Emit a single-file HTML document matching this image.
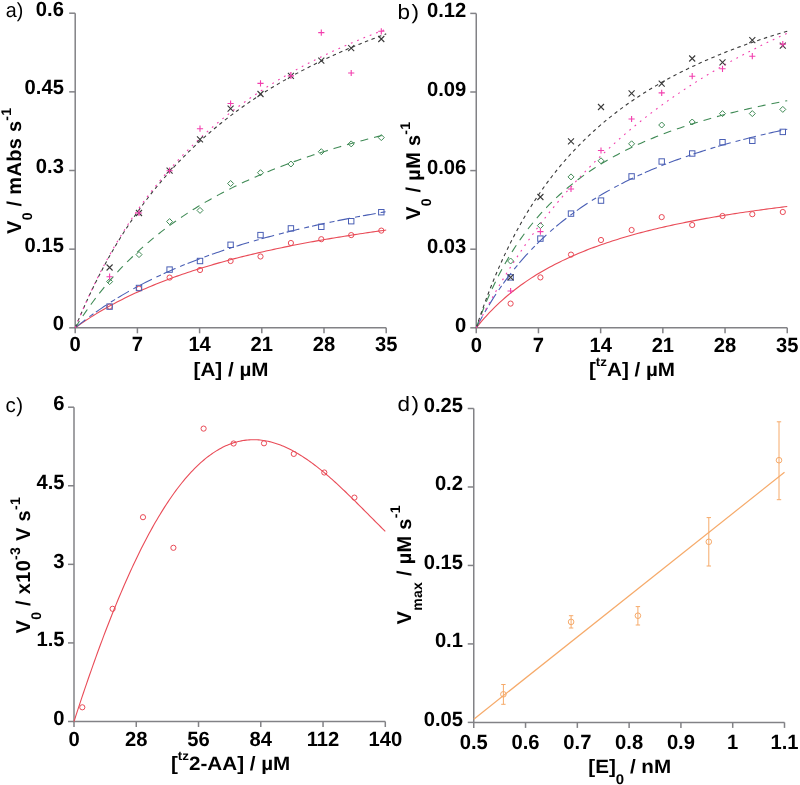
<!DOCTYPE html><html><head><meta charset="utf-8"><style>html,body{margin:0;padding:0;background:#fff}svg{display:block;font-family:"Liberation Sans",sans-serif;text-rendering:geometricPrecision;filter:blur(0.5px)}</style></head><body><svg width="800" height="785" viewBox="0 0 800 785" >
<rect width="800" height="785" fill="#fff"/>
<path d="M75.2,13.2 V327.8 H386.2" stroke="#828286" stroke-width="1.5" fill="none"/>
<path d="M75.20,327.8 v5.5" stroke="#828286" stroke-width="1.5"/>
<text transform="translate(75.20,351.40) scale(0.98,1)" text-anchor="middle" font-size="20.6" font-weight="bold" >0</text>
<path d="M137.40,327.8 v5.5" stroke="#828286" stroke-width="1.5"/>
<text transform="translate(137.40,351.40) scale(0.98,1)" text-anchor="middle" font-size="20.6" font-weight="bold" >7</text>
<path d="M199.60,327.8 v5.5" stroke="#828286" stroke-width="1.5"/>
<text transform="translate(199.60,351.40) scale(0.98,1)" text-anchor="middle" font-size="20.6" font-weight="bold" >14</text>
<path d="M261.80,327.8 v5.5" stroke="#828286" stroke-width="1.5"/>
<text transform="translate(261.80,351.40) scale(0.98,1)" text-anchor="middle" font-size="20.6" font-weight="bold" >21</text>
<path d="M324.00,327.8 v5.5" stroke="#828286" stroke-width="1.5"/>
<text transform="translate(324.00,351.40) scale(0.98,1)" text-anchor="middle" font-size="20.6" font-weight="bold" >28</text>
<path d="M386.20,327.8 v5.5" stroke="#828286" stroke-width="1.5"/>
<text transform="translate(386.20,351.40) scale(0.98,1)" text-anchor="middle" font-size="20.6" font-weight="bold" >35</text>
<path d="M75.2,327.80 h-6" stroke="#828286" stroke-width="1.5"/>
<text transform="translate(63.90,330.40) scale(0.98,1)" text-anchor="end" font-size="20.6" font-weight="bold" >0</text>
<path d="M75.2,249.15 h-6" stroke="#828286" stroke-width="1.5"/>
<text transform="translate(63.90,251.75) scale(0.98,1)" text-anchor="end" font-size="20.6" font-weight="bold" >0.15</text>
<path d="M75.2,170.50 h-6" stroke="#828286" stroke-width="1.5"/>
<text transform="translate(63.90,173.10) scale(0.98,1)" text-anchor="end" font-size="20.6" font-weight="bold" >0.3</text>
<path d="M75.2,91.85 h-6" stroke="#828286" stroke-width="1.5"/>
<text transform="translate(63.90,94.45) scale(0.98,1)" text-anchor="end" font-size="20.6" font-weight="bold" >0.45</text>
<path d="M75.2,13.20 h-6" stroke="#828286" stroke-width="1.5"/>
<text transform="translate(63.90,15.80) scale(0.98,1)" text-anchor="end" font-size="20.6" font-weight="bold" >0.6</text>
<path d="M75.20,327.80 L77.81,325.93 L80.43,324.10 L83.04,322.31 L85.65,320.56 L88.27,318.84 L90.88,317.16 L93.49,315.52 L96.11,313.90 L98.72,312.32 L101.33,310.77 L103.95,309.25 L106.56,307.76 L109.17,306.30 L111.79,304.86 L114.40,303.45 L117.02,302.07 L119.63,300.72 L122.24,299.39 L124.86,298.08 L127.47,296.79 L130.08,295.53 L132.70,294.29 L135.31,293.08 L137.92,291.88 L140.54,290.71 L143.15,289.55 L145.76,288.41 L148.38,287.30 L150.99,286.20 L153.60,285.12 L156.22,284.06 L158.83,283.01 L161.44,281.98 L164.06,280.97 L166.67,279.97 L169.28,278.99 L171.90,278.03 L174.51,277.08 L177.12,276.14 L179.74,275.22 L182.35,274.31 L184.96,273.42 L187.58,272.53 L190.19,271.67 L192.81,270.81 L195.42,269.97 L198.03,269.14 L200.65,268.32 L203.26,267.51 L205.87,266.72 L208.49,265.93 L211.10,265.16 L213.71,264.40 L216.33,263.64 L218.94,262.90 L221.55,262.17 L224.17,261.45 L226.78,260.73 L229.39,260.03 L232.01,259.34 L234.62,258.65 L237.23,257.98 L239.85,257.31 L242.46,256.65 L245.07,256.00 L247.69,255.36 L250.30,254.73 L252.91,254.10 L255.53,253.48 L258.14,252.87 L260.75,252.27 L263.37,251.67 L265.98,251.08 L268.59,250.50 L271.21,249.93 L273.82,249.36 L276.44,248.80 L279.05,248.25 L281.66,247.70 L284.28,247.16 L286.89,246.62 L289.50,246.10 L292.12,245.57 L294.73,245.06 L297.34,244.55 L299.96,244.04 L302.57,243.54 L305.18,243.05 L307.80,242.56 L310.41,242.08 L313.02,241.60 L315.64,241.13 L318.25,240.66 L320.86,240.20 L323.48,239.74 L326.09,239.29 L328.70,238.84 L331.32,238.40 L333.93,237.96 L336.54,237.53 L339.16,237.10 L341.77,236.67 L344.38,236.25 L347.00,235.84 L349.61,235.42 L352.23,235.02 L354.84,234.61 L357.45,234.21 L360.07,233.82 L362.68,233.43 L365.29,233.04 L367.91,232.65 L370.52,232.27 L373.13,231.90 L375.75,231.52 L378.36,231.16 L380.97,230.79 L383.59,230.43 L386.20,230.07" fill="none" stroke="#e94b57" stroke-width="1.1" />
<path d="M75.20,327.80 L77.81,325.68 L80.43,323.60 L83.04,321.56 L85.65,319.56 L88.27,317.60 L90.88,315.67 L93.49,313.78 L96.11,311.93 L98.72,310.11 L101.33,308.33 L103.95,306.57 L106.56,304.85 L109.17,303.16 L111.79,301.50 L114.40,299.87 L117.02,298.26 L119.63,296.69 L122.24,295.14 L124.86,293.61 L127.47,292.11 L130.08,290.64 L132.70,289.19 L135.31,287.77 L137.92,286.36 L140.54,284.98 L143.15,283.63 L145.76,282.29 L148.38,280.97 L150.99,279.68 L153.60,278.40 L156.22,277.15 L158.83,275.91 L161.44,274.70 L164.06,273.50 L166.67,272.31 L169.28,271.15 L171.90,270.00 L174.51,268.87 L177.12,267.76 L179.74,266.66 L182.35,265.58 L184.96,264.51 L187.58,263.46 L190.19,262.42 L192.81,261.40 L195.42,260.39 L198.03,259.39 L200.65,258.41 L203.26,257.44 L205.87,256.49 L208.49,255.55 L211.10,254.62 L213.71,253.70 L216.33,252.79 L218.94,251.90 L221.55,251.01 L224.17,250.14 L226.78,249.28 L229.39,248.43 L232.01,247.59 L234.62,246.76 L237.23,245.94 L239.85,245.14 L242.46,244.34 L245.07,243.55 L247.69,242.77 L250.30,242.00 L252.91,241.24 L255.53,240.49 L258.14,239.75 L260.75,239.01 L263.37,238.29 L265.98,237.57 L268.59,236.86 L271.21,236.16 L273.82,235.47 L276.44,234.78 L279.05,234.10 L281.66,233.43 L284.28,232.77 L286.89,232.12 L289.50,231.47 L292.12,230.83 L294.73,230.20 L297.34,229.57 L299.96,228.95 L302.57,228.34 L305.18,227.73 L307.80,227.13 L310.41,226.54 L313.02,225.95 L315.64,225.37 L318.25,224.79 L320.86,224.22 L323.48,223.66 L326.09,223.10 L328.70,222.55 L331.32,222.00 L333.93,221.46 L336.54,220.93 L339.16,220.39 L341.77,219.87 L344.38,219.35 L347.00,218.84 L349.61,218.33 L352.23,217.82 L354.84,217.32 L357.45,216.83 L360.07,216.34 L362.68,215.85 L365.29,215.37 L367.91,214.89 L370.52,214.42 L373.13,213.95 L375.75,213.49 L378.36,213.03 L380.97,212.58 L383.59,212.13 L386.20,211.68" fill="none" stroke="#4a5fb5" stroke-width="1.1" stroke-dasharray="13 5 5 3"/>
<path d="M75.20,327.80 L77.81,323.67 L80.43,319.64 L83.04,315.72 L85.65,311.90 L88.27,308.17 L90.88,304.53 L93.49,300.98 L96.11,297.52 L98.72,294.14 L101.33,290.83 L103.95,287.61 L106.56,284.45 L109.17,281.37 L111.79,278.36 L114.40,275.42 L117.02,272.53 L119.63,269.72 L122.24,266.96 L124.86,264.26 L127.47,261.61 L130.08,259.02 L132.70,256.49 L135.31,254.00 L137.92,251.57 L140.54,249.18 L143.15,246.84 L145.76,244.55 L148.38,242.30 L150.99,240.10 L153.60,237.93 L156.22,235.81 L158.83,233.73 L161.44,231.68 L164.06,229.67 L166.67,227.70 L169.28,225.77 L171.90,223.86 L174.51,222.00 L177.12,220.16 L179.74,218.36 L182.35,216.58 L184.96,214.84 L187.58,213.13 L190.19,211.44 L192.81,209.79 L195.42,208.16 L198.03,206.55 L200.65,204.98 L203.26,203.43 L205.87,201.90 L208.49,200.40 L211.10,198.92 L213.71,197.46 L216.33,196.03 L218.94,194.62 L221.55,193.23 L224.17,191.86 L226.78,190.51 L229.39,189.18 L232.01,187.87 L234.62,186.58 L237.23,185.31 L239.85,184.06 L242.46,182.83 L245.07,181.61 L247.69,180.41 L250.30,179.23 L252.91,178.06 L255.53,176.91 L258.14,175.77 L260.75,174.66 L263.37,173.55 L265.98,172.46 L268.59,171.39 L271.21,170.33 L273.82,169.28 L276.44,168.25 L279.05,167.23 L281.66,166.23 L284.28,165.23 L286.89,164.25 L289.50,163.29 L292.12,162.33 L294.73,161.39 L297.34,160.46 L299.96,159.53 L302.57,158.63 L305.18,157.73 L307.80,156.84 L310.41,155.97 L313.02,155.10 L315.64,154.25 L318.25,153.40 L320.86,152.57 L323.48,151.74 L326.09,150.92 L328.70,150.12 L331.32,149.32 L333.93,148.53 L336.54,147.75 L339.16,146.98 L341.77,146.22 L344.38,145.47 L347.00,144.73 L349.61,143.99 L352.23,143.26 L354.84,142.54 L357.45,141.83 L360.07,141.13 L362.68,140.43 L365.29,139.74 L367.91,139.06 L370.52,138.38 L373.13,137.72 L375.75,137.06 L378.36,136.40 L380.97,135.75 L383.59,135.11 L386.20,134.48" fill="none" stroke="#3f8a55" stroke-width="1.1" stroke-dasharray="8 6"/>
<path d="M75.20,327.80 L77.81,321.47 L80.43,315.31 L83.04,309.31 L85.65,303.46 L88.27,297.76 L90.88,292.20 L93.49,286.77 L96.11,281.48 L98.72,276.32 L101.33,271.27 L103.95,266.34 L106.56,261.53 L109.17,256.83 L111.79,252.23 L114.40,247.74 L117.02,243.34 L119.63,239.05 L122.24,234.84 L124.86,230.72 L127.47,226.70 L130.08,222.75 L132.70,218.89 L135.31,215.11 L137.92,211.40 L140.54,207.77 L143.15,204.21 L145.76,200.72 L148.38,197.29 L150.99,193.94 L153.60,190.65 L156.22,187.42 L158.83,184.25 L161.44,181.14 L164.06,178.09 L166.67,175.09 L169.28,172.15 L171.90,169.26 L174.51,166.42 L177.12,163.63 L179.74,160.89 L182.35,158.20 L184.96,155.55 L187.58,152.95 L190.19,150.39 L192.81,147.88 L195.42,145.40 L198.03,142.97 L200.65,140.58 L203.26,138.22 L205.87,135.91 L208.49,133.63 L211.10,131.39 L213.71,129.18 L216.33,127.00 L218.94,124.86 L221.55,122.76 L224.17,120.68 L226.78,118.64 L229.39,116.62 L232.01,114.64 L234.62,112.69 L237.23,110.76 L239.85,108.86 L242.46,106.99 L245.07,105.15 L247.69,103.33 L250.30,101.54 L252.91,99.78 L255.53,98.03 L258.14,96.32 L260.75,94.62 L263.37,92.95 L265.98,91.30 L268.59,89.68 L271.21,88.07 L273.82,86.49 L276.44,84.93 L279.05,83.39 L281.66,81.86 L284.28,80.36 L286.89,78.88 L289.50,77.42 L292.12,75.97 L294.73,74.54 L297.34,73.13 L299.96,71.74 L302.57,70.37 L305.18,69.01 L307.80,67.67 L310.41,66.35 L313.02,65.04 L315.64,63.74 L318.25,62.47 L320.86,61.21 L323.48,59.96 L326.09,58.73 L328.70,57.51 L331.32,56.30 L333.93,55.11 L336.54,53.94 L339.16,52.77 L341.77,51.62 L344.38,50.49 L347.00,49.36 L349.61,48.25 L352.23,47.15 L354.84,46.06 L357.45,44.99 L360.07,43.92 L362.68,42.87 L365.29,41.83 L367.91,40.80 L370.52,39.78 L373.13,38.77 L375.75,37.78 L378.36,36.79 L380.97,35.81 L383.59,34.85 L386.20,33.89" fill="none" stroke="#3a3a3a" stroke-width="1.1" stroke-dasharray="3.5 3.5"/>
<path d="M75.20,327.80 L77.81,321.38 L80.43,315.14 L83.04,309.05 L85.65,303.12 L88.27,297.33 L90.88,291.69 L93.49,286.19 L96.11,280.82 L98.72,275.58 L101.33,270.46 L103.95,265.46 L106.56,260.57 L109.17,255.80 L111.79,251.14 L114.40,246.57 L117.02,242.11 L119.63,237.75 L122.24,233.48 L124.86,229.30 L127.47,225.21 L130.08,221.21 L132.70,217.28 L135.31,213.44 L137.92,209.68 L140.54,205.99 L143.15,202.37 L145.76,198.83 L148.38,195.35 L150.99,191.94 L153.60,188.60 L156.22,185.32 L158.83,182.10 L161.44,178.94 L164.06,175.84 L166.67,172.79 L169.28,169.80 L171.90,166.87 L174.51,163.98 L177.12,161.15 L179.74,158.37 L182.35,155.63 L184.96,152.94 L187.58,150.30 L190.19,147.70 L192.81,145.14 L195.42,142.63 L198.03,140.16 L200.65,137.72 L203.26,135.33 L205.87,132.98 L208.49,130.66 L211.10,128.38 L213.71,126.13 L216.33,123.93 L218.94,121.75 L221.55,119.61 L224.17,117.50 L226.78,115.42 L229.39,113.37 L232.01,111.35 L234.62,109.37 L237.23,107.41 L239.85,105.48 L242.46,103.58 L245.07,101.70 L247.69,99.86 L250.30,98.03 L252.91,96.24 L255.53,94.47 L258.14,92.72 L260.75,91.00 L263.37,89.30 L265.98,87.62 L268.59,85.97 L271.21,84.33 L273.82,82.72 L276.44,81.13 L279.05,79.57 L281.66,78.02 L284.28,76.49 L286.89,74.98 L289.50,73.49 L292.12,72.02 L294.73,70.57 L297.34,69.14 L299.96,67.72 L302.57,66.32 L305.18,64.94 L307.80,63.58 L310.41,62.23 L313.02,60.90 L315.64,59.59 L318.25,58.29 L320.86,57.00 L323.48,55.73 L326.09,54.48 L328.70,53.24 L331.32,52.01 L333.93,50.80 L336.54,49.61 L339.16,48.42 L341.77,47.25 L344.38,46.09 L347.00,44.95 L349.61,43.82 L352.23,42.70 L354.84,41.59 L357.45,40.50 L360.07,39.42 L362.68,38.34 L365.29,37.28 L367.91,36.24 L370.52,35.20 L373.13,34.17 L375.75,33.16 L378.36,32.15 L380.97,31.16 L383.59,30.18 L386.20,29.20" fill="none" stroke="#f23fae" stroke-width="1.1" stroke-dasharray="1.8 5"/>
<circle cx="109.60" cy="306.60" r="2.6" fill="none" stroke="#e94b57" stroke-width="1"/>
<circle cx="139.00" cy="288.60" r="2.6" fill="none" stroke="#e94b57" stroke-width="1"/>
<circle cx="169.60" cy="277.60" r="2.6" fill="none" stroke="#e94b57" stroke-width="1"/>
<circle cx="200.00" cy="270.00" r="2.6" fill="none" stroke="#e94b57" stroke-width="1"/>
<circle cx="230.60" cy="261.00" r="2.6" fill="none" stroke="#e94b57" stroke-width="1"/>
<circle cx="260.50" cy="256.50" r="2.6" fill="none" stroke="#e94b57" stroke-width="1"/>
<circle cx="290.90" cy="243.00" r="2.6" fill="none" stroke="#e94b57" stroke-width="1"/>
<circle cx="321.30" cy="239.20" r="2.6" fill="none" stroke="#e94b57" stroke-width="1"/>
<circle cx="351.20" cy="235.10" r="2.6" fill="none" stroke="#e94b57" stroke-width="1"/>
<circle cx="381.30" cy="230.60" r="2.6" fill="none" stroke="#e94b57" stroke-width="1"/>
<rect x="106.90" y="303.90" width="5.4" height="5.4" fill="none" stroke="#4a5fb5" stroke-width="1"/>
<rect x="136.30" y="285.30" width="5.4" height="5.4" fill="none" stroke="#4a5fb5" stroke-width="1"/>
<rect x="166.90" y="266.90" width="5.4" height="5.4" fill="none" stroke="#4a5fb5" stroke-width="1"/>
<rect x="197.30" y="258.30" width="5.4" height="5.4" fill="none" stroke="#4a5fb5" stroke-width="1"/>
<rect x="227.90" y="242.10" width="5.4" height="5.4" fill="none" stroke="#4a5fb5" stroke-width="1"/>
<rect x="257.80" y="232.40" width="5.4" height="5.4" fill="none" stroke="#4a5fb5" stroke-width="1"/>
<rect x="288.20" y="225.70" width="5.4" height="5.4" fill="none" stroke="#4a5fb5" stroke-width="1"/>
<rect x="318.60" y="224.10" width="5.4" height="5.4" fill="none" stroke="#4a5fb5" stroke-width="1"/>
<rect x="348.50" y="218.50" width="5.4" height="5.4" fill="none" stroke="#4a5fb5" stroke-width="1"/>
<rect x="378.60" y="209.50" width="5.4" height="5.4" fill="none" stroke="#4a5fb5" stroke-width="1"/>
<path d="M109.60,278.60 L112.60,281.60 L109.60,284.60 L106.60,281.60Z" fill="none" stroke="#3f8a55" stroke-width="1"/>
<path d="M139.00,251.60 L142.00,254.60 L139.00,257.60 L136.00,254.60Z" fill="none" stroke="#3f8a55" stroke-width="1"/>
<path d="M169.60,218.60 L172.60,221.60 L169.60,224.60 L166.60,221.60Z" fill="none" stroke="#3f8a55" stroke-width="1"/>
<path d="M200.00,207.40 L203.00,210.40 L200.00,213.40 L197.00,210.40Z" fill="none" stroke="#3f8a55" stroke-width="1"/>
<path d="M230.60,180.50 L233.60,183.50 L230.60,186.50 L227.60,183.50Z" fill="none" stroke="#3f8a55" stroke-width="1"/>
<path d="M260.50,169.70 L263.50,172.70 L260.50,175.70 L257.50,172.70Z" fill="none" stroke="#3f8a55" stroke-width="1"/>
<path d="M290.90,161.00 L293.90,164.00 L290.90,167.00 L287.90,164.00Z" fill="none" stroke="#3f8a55" stroke-width="1"/>
<path d="M321.30,148.70 L324.30,151.70 L321.30,154.70 L318.30,151.70Z" fill="none" stroke="#3f8a55" stroke-width="1"/>
<path d="M351.20,140.90 L354.20,143.90 L351.20,146.90 L348.20,143.90Z" fill="none" stroke="#3f8a55" stroke-width="1"/>
<path d="M381.30,134.60 L384.30,137.60 L381.30,140.60 L378.30,137.60Z" fill="none" stroke="#3f8a55" stroke-width="1"/>
<path d="M106.60,264.50 L112.60,270.50 M106.60,270.50 L112.60,264.50" stroke="#3a3a3a" stroke-width="1.1"/>
<path d="M136.00,210.00 L142.00,216.00 M136.00,216.00 L142.00,210.00" stroke="#3a3a3a" stroke-width="1.1"/>
<path d="M166.60,167.70 L172.60,173.70 M166.60,173.70 L172.60,167.70" stroke="#3a3a3a" stroke-width="1.1"/>
<path d="M197.00,136.30 L203.00,142.30 M197.00,142.30 L203.00,136.30" stroke="#3a3a3a" stroke-width="1.1"/>
<path d="M227.60,105.70 L233.60,111.70 M227.60,111.70 L233.60,105.70" stroke="#3a3a3a" stroke-width="1.1"/>
<path d="M257.50,91.00 L263.50,97.00 M257.50,97.00 L263.50,91.00" stroke="#3a3a3a" stroke-width="1.1"/>
<path d="M287.90,72.90 L293.90,78.90 M287.90,78.90 L293.90,72.90" stroke="#3a3a3a" stroke-width="1.1"/>
<path d="M318.30,57.70 L324.30,63.70 M318.30,63.70 L324.30,57.70" stroke="#3a3a3a" stroke-width="1.1"/>
<path d="M348.20,45.20 L354.20,51.20 M348.20,51.20 L354.20,45.20" stroke="#3a3a3a" stroke-width="1.1"/>
<path d="M378.30,36.00 L384.30,42.00 M378.30,42.00 L384.30,36.00" stroke="#3a3a3a" stroke-width="1.1"/>
<path d="M106.50,276.70 H112.70 M109.60,273.60 V279.80" stroke="#f23fae" stroke-width="1.1"/>
<path d="M135.90,213.00 H142.10 M139.00,209.90 V216.10" stroke="#f23fae" stroke-width="1.1"/>
<path d="M166.50,170.70 H172.70 M169.60,167.60 V173.80" stroke="#f23fae" stroke-width="1.1"/>
<path d="M196.90,128.70 H203.10 M200.00,125.60 V131.80" stroke="#f23fae" stroke-width="1.1"/>
<path d="M227.50,103.50 H233.70 M230.60,100.40 V106.60" stroke="#f23fae" stroke-width="1.1"/>
<path d="M257.40,83.40 H263.60 M260.50,80.30 V86.50" stroke="#f23fae" stroke-width="1.1"/>
<path d="M287.80,75.90 H294.00 M290.90,72.80 V79.00" stroke="#f23fae" stroke-width="1.1"/>
<path d="M318.20,32.60 H324.40 M321.30,29.50 V35.70" stroke="#f23fae" stroke-width="1.1"/>
<path d="M348.10,73.00 H354.30 M351.20,69.90 V76.10" stroke="#f23fae" stroke-width="1.1"/>
<path d="M378.20,31.30 H384.40 M381.30,28.20 V34.40" stroke="#f23fae" stroke-width="1.1"/>
<text transform="translate(5.80,16.50) scale(0.96,1)" text-anchor="start" font-size="20.5" font-weight="normal" >a)</text>
<text transform="translate(21.2,234) rotate(-90)" font-size="20" font-weight="bold" letter-spacing="0.3"><tspan dy="0" font-size="20">V</tspan><tspan dy="11" font-size="14">0</tspan><tspan dy="-11" font-size="20">&#160;/&#160;mAbs&#160;s</tspan><tspan dy="-10.6" font-size="14">-1</tspan></text>
<text transform="translate(193.60,375.60) scale(1.07,1)" text-anchor="start" font-size="19.3" font-weight="bold" >[A] / µM</text>
<path d="M476.25,13.4 V327.8 H787.25" stroke="#828286" stroke-width="1.5" fill="none"/>
<path d="M476.25,327.8 v5.5" stroke="#828286" stroke-width="1.5"/>
<text transform="translate(476.25,351.80) scale(0.98,1)" text-anchor="middle" font-size="20.6" font-weight="bold" >0</text>
<path d="M538.45,327.8 v5.5" stroke="#828286" stroke-width="1.5"/>
<text transform="translate(538.45,351.80) scale(0.98,1)" text-anchor="middle" font-size="20.6" font-weight="bold" >7</text>
<path d="M600.65,327.8 v5.5" stroke="#828286" stroke-width="1.5"/>
<text transform="translate(600.65,351.80) scale(0.98,1)" text-anchor="middle" font-size="20.6" font-weight="bold" >14</text>
<path d="M662.85,327.8 v5.5" stroke="#828286" stroke-width="1.5"/>
<text transform="translate(662.85,351.80) scale(0.98,1)" text-anchor="middle" font-size="20.6" font-weight="bold" >21</text>
<path d="M725.05,327.8 v5.5" stroke="#828286" stroke-width="1.5"/>
<text transform="translate(725.05,351.80) scale(0.98,1)" text-anchor="middle" font-size="20.6" font-weight="bold" >28</text>
<path d="M787.25,327.8 v5.5" stroke="#828286" stroke-width="1.5"/>
<text transform="translate(787.25,351.80) scale(0.98,1)" text-anchor="middle" font-size="20.6" font-weight="bold" >35</text>
<path d="M476.25,327.80 h-6" stroke="#828286" stroke-width="1.5"/>
<text transform="translate(466.25,331.60) scale(0.98,1)" text-anchor="end" font-size="20.6" font-weight="bold" >0</text>
<path d="M476.25,249.20 h-6" stroke="#828286" stroke-width="1.5"/>
<text transform="translate(466.25,253.00) scale(0.98,1)" text-anchor="end" font-size="20.6" font-weight="bold" >0.03</text>
<path d="M476.25,170.60 h-6" stroke="#828286" stroke-width="1.5"/>
<text transform="translate(466.25,174.40) scale(0.98,1)" text-anchor="end" font-size="20.6" font-weight="bold" >0.06</text>
<path d="M476.25,92.00 h-6" stroke="#828286" stroke-width="1.5"/>
<text transform="translate(466.25,95.80) scale(0.98,1)" text-anchor="end" font-size="20.6" font-weight="bold" >0.09</text>
<path d="M476.25,13.40 h-6" stroke="#828286" stroke-width="1.5"/>
<text transform="translate(466.25,17.20) scale(0.98,1)" text-anchor="end" font-size="20.6" font-weight="bold" >0.12</text>
<path d="M476.25,327.80 L478.86,324.56 L481.48,321.44 L484.09,318.44 L486.70,315.53 L489.32,312.73 L491.93,310.02 L494.54,307.40 L497.16,304.87 L499.77,302.42 L502.38,300.04 L505.00,297.74 L507.61,295.51 L510.22,293.35 L512.84,291.25 L515.45,289.21 L518.07,287.24 L520.68,285.31 L523.29,283.45 L525.91,281.63 L528.52,279.86 L531.13,278.14 L533.75,276.47 L536.36,274.84 L538.97,273.25 L541.59,271.71 L544.20,270.20 L546.81,268.73 L549.43,267.30 L552.04,265.90 L554.65,264.53 L557.27,263.20 L559.88,261.90 L562.49,260.62 L565.11,259.38 L567.72,258.17 L570.33,256.98 L572.95,255.82 L575.56,254.68 L578.17,253.57 L580.79,252.49 L583.40,251.42 L586.01,250.38 L588.63,249.36 L591.24,248.36 L593.86,247.38 L596.47,246.42 L599.08,245.48 L601.70,244.56 L604.31,243.66 L606.92,242.77 L609.54,241.91 L612.15,241.05 L614.76,240.22 L617.38,239.40 L619.99,238.59 L622.60,237.80 L625.22,237.02 L627.83,236.26 L630.44,235.51 L633.06,234.78 L635.67,234.05 L638.28,233.34 L640.90,232.65 L643.51,231.96 L646.12,231.29 L648.74,230.62 L651.35,229.97 L653.96,229.33 L656.58,228.70 L659.19,228.08 L661.80,227.47 L664.42,226.87 L667.03,226.28 L669.64,225.69 L672.26,225.12 L674.87,224.56 L677.49,224.00 L680.10,223.45 L682.71,222.92 L685.33,222.38 L687.94,221.86 L690.55,221.35 L693.17,220.84 L695.78,220.34 L698.39,219.85 L701.01,219.36 L703.62,218.88 L706.23,218.41 L708.85,217.94 L711.46,217.49 L714.07,217.03 L716.69,216.59 L719.30,216.15 L721.91,215.71 L724.53,215.28 L727.14,214.86 L729.75,214.44 L732.37,214.03 L734.98,213.63 L737.59,213.23 L740.21,212.83 L742.82,212.44 L745.43,212.05 L748.05,211.67 L750.66,211.30 L753.28,210.93 L755.89,210.56 L758.50,210.20 L761.12,209.84 L763.73,209.49 L766.34,209.14 L768.96,208.79 L771.57,208.45 L774.18,208.12 L776.80,207.79 L779.41,207.46 L782.02,207.13 L784.64,206.81 L787.25,206.49" fill="none" stroke="#e94b57" stroke-width="1.1" />
<path d="M476.25,327.80 L478.86,322.85 L481.48,318.07 L484.09,313.44 L486.70,308.96 L489.32,304.62 L491.93,300.41 L494.54,296.32 L497.16,292.36 L499.77,288.52 L502.38,284.79 L505.00,281.16 L507.61,277.64 L510.22,274.21 L512.84,270.88 L515.45,267.63 L518.07,264.48 L520.68,261.40 L523.29,258.41 L525.91,255.49 L528.52,252.65 L531.13,249.87 L533.75,247.17 L536.36,244.53 L538.97,241.96 L541.59,239.44 L544.20,236.99 L546.81,234.59 L549.43,232.25 L552.04,229.96 L554.65,227.72 L557.27,225.53 L559.88,223.39 L562.49,221.30 L565.11,219.25 L567.72,217.24 L570.33,215.28 L572.95,213.36 L575.56,211.47 L578.17,209.63 L580.79,207.82 L583.40,206.05 L586.01,204.31 L588.63,202.61 L591.24,200.94 L593.86,199.31 L596.47,197.70 L599.08,196.12 L601.70,194.58 L604.31,193.06 L606.92,191.57 L609.54,190.11 L612.15,188.67 L614.76,187.26 L617.38,185.87 L619.99,184.51 L622.60,183.18 L625.22,181.86 L627.83,180.57 L630.44,179.30 L633.06,178.05 L635.67,176.82 L638.28,175.61 L640.90,174.42 L643.51,173.25 L646.12,172.10 L648.74,170.97 L651.35,169.86 L653.96,168.76 L656.58,167.68 L659.19,166.62 L661.80,165.57 L664.42,164.54 L667.03,163.53 L669.64,162.53 L672.26,161.55 L674.87,160.58 L677.49,159.62 L680.10,158.68 L682.71,157.75 L685.33,156.84 L687.94,155.93 L690.55,155.05 L693.17,154.17 L695.78,153.31 L698.39,152.45 L701.01,151.61 L703.62,150.78 L706.23,149.97 L708.85,149.16 L711.46,148.36 L714.07,147.58 L716.69,146.80 L719.30,146.04 L721.91,145.29 L724.53,144.54 L727.14,143.81 L729.75,143.08 L732.37,142.36 L734.98,141.66 L737.59,140.96 L740.21,140.27 L742.82,139.59 L745.43,138.91 L748.05,138.25 L750.66,137.59 L753.28,136.94 L755.89,136.30 L758.50,135.67 L761.12,135.04 L763.73,134.43 L766.34,133.81 L768.96,133.21 L771.57,132.61 L774.18,132.02 L776.80,131.44 L779.41,130.86 L782.02,130.29 L784.64,129.73 L787.25,129.17" fill="none" stroke="#4a5fb5" stroke-width="1.1" stroke-dasharray="13 5 5 3"/>
<path d="M476.25,327.80 L478.86,320.60 L481.48,313.74 L484.09,307.18 L486.70,300.91 L489.32,294.91 L491.93,289.16 L494.54,283.65 L497.16,278.36 L499.77,273.28 L502.38,268.39 L505.00,263.69 L507.61,259.17 L510.22,254.81 L512.84,250.61 L515.45,246.56 L518.07,242.65 L520.68,238.87 L523.29,235.22 L525.91,231.69 L528.52,228.28 L531.13,224.97 L533.75,221.77 L536.36,218.66 L538.97,215.65 L541.59,212.73 L544.20,209.90 L546.81,207.15 L549.43,204.48 L552.04,201.89 L554.65,199.36 L557.27,196.91 L559.88,194.53 L562.49,192.20 L565.11,189.94 L567.72,187.74 L570.33,185.60 L572.95,183.51 L575.56,181.47 L578.17,179.48 L580.79,177.54 L583.40,175.65 L586.01,173.80 L588.63,172.00 L591.24,170.24 L593.86,168.52 L596.47,166.84 L599.08,165.20 L601.70,163.59 L604.31,162.02 L606.92,160.48 L609.54,158.98 L612.15,157.51 L614.76,156.07 L617.38,154.66 L619.99,153.28 L622.60,151.93 L625.22,150.60 L627.83,149.30 L630.44,148.03 L633.06,146.78 L635.67,145.56 L638.28,144.36 L640.90,143.18 L643.51,142.03 L646.12,140.90 L648.74,139.79 L651.35,138.69 L653.96,137.62 L656.58,136.57 L659.19,135.54 L661.80,134.52 L664.42,133.53 L667.03,132.55 L669.64,131.59 L672.26,130.64 L674.87,129.71 L677.49,128.80 L680.10,127.90 L682.71,127.01 L685.33,126.14 L687.94,125.29 L690.55,124.45 L693.17,123.62 L695.78,122.80 L698.39,122.00 L701.01,121.21 L703.62,120.44 L706.23,119.67 L708.85,118.92 L711.46,118.18 L714.07,117.45 L716.69,116.73 L719.30,116.02 L721.91,115.32 L724.53,114.63 L727.14,113.95 L729.75,113.28 L732.37,112.62 L734.98,111.97 L737.59,111.33 L740.21,110.70 L742.82,110.08 L745.43,109.47 L748.05,108.86 L750.66,108.26 L753.28,107.67 L755.89,107.09 L758.50,106.52 L761.12,105.95 L763.73,105.39 L766.34,104.84 L768.96,104.30 L771.57,103.76 L774.18,103.23 L776.80,102.71 L779.41,102.19 L782.02,101.68 L784.64,101.18 L787.25,100.68" fill="none" stroke="#3f8a55" stroke-width="1.1" stroke-dasharray="8 6"/>
<path d="M476.25,327.80 L478.86,319.86 L481.48,312.22 L484.09,304.84 L486.70,297.73 L489.32,290.86 L491.93,284.22 L494.54,277.80 L497.16,271.59 L499.77,265.59 L502.38,259.77 L505.00,254.14 L507.61,248.68 L510.22,243.38 L512.84,238.24 L515.45,233.26 L518.07,228.42 L520.68,223.71 L523.29,219.14 L525.91,214.70 L528.52,210.37 L531.13,206.17 L533.75,202.07 L536.36,198.09 L538.97,194.21 L541.59,190.42 L544.20,186.74 L546.81,183.14 L549.43,179.63 L552.04,176.21 L554.65,172.87 L557.27,169.62 L559.88,166.43 L562.49,163.32 L565.11,160.29 L567.72,157.32 L570.33,154.42 L572.95,151.58 L575.56,148.81 L578.17,146.09 L580.79,143.44 L583.40,140.84 L586.01,138.29 L588.63,135.80 L591.24,133.36 L593.86,130.97 L596.47,128.63 L599.08,126.33 L601.70,124.08 L604.31,121.88 L606.92,119.71 L609.54,117.59 L612.15,115.51 L614.76,113.47 L617.38,111.46 L619.99,109.50 L622.60,107.57 L625.22,105.67 L627.83,103.81 L630.44,101.98 L633.06,100.19 L635.67,98.42 L638.28,96.69 L640.90,94.98 L643.51,93.31 L646.12,91.66 L648.74,90.04 L651.35,88.45 L653.96,86.89 L656.58,85.35 L659.19,83.83 L661.80,82.34 L664.42,80.88 L667.03,79.43 L669.64,78.01 L672.26,76.62 L674.87,75.24 L677.49,73.88 L680.10,72.55 L682.71,71.23 L685.33,69.94 L687.94,68.66 L690.55,67.41 L693.17,66.17 L695.78,64.95 L698.39,63.75 L701.01,62.56 L703.62,61.40 L706.23,60.24 L708.85,59.11 L711.46,57.99 L714.07,56.89 L716.69,55.80 L719.30,54.72 L721.91,53.66 L724.53,52.62 L727.14,51.59 L729.75,50.57 L732.37,49.57 L734.98,48.58 L737.59,47.60 L740.21,46.64 L742.82,45.68 L745.43,44.74 L748.05,43.81 L750.66,42.90 L753.28,41.99 L755.89,41.10 L758.50,40.22 L761.12,39.35 L763.73,38.49 L766.34,37.63 L768.96,36.79 L771.57,35.96 L774.18,35.14 L776.80,34.33 L779.41,33.53 L782.02,32.74 L784.64,31.96 L787.25,31.19" fill="none" stroke="#3a3a3a" stroke-width="1.1" stroke-dasharray="3.5 3.5"/>
<path d="M476.25,327.80 L478.86,322.67 L481.48,317.62 L484.09,312.67 L486.70,307.81 L489.32,303.03 L491.93,298.33 L494.54,293.72 L497.16,289.18 L499.77,284.72 L502.38,280.34 L505.00,276.03 L507.61,271.79 L510.22,267.62 L512.84,263.52 L515.45,259.49 L518.07,255.51 L520.68,251.61 L523.29,247.76 L525.91,243.97 L528.52,240.25 L531.13,236.58 L533.75,232.96 L536.36,229.41 L538.97,225.90 L541.59,222.45 L544.20,219.05 L546.81,215.69 L549.43,212.39 L552.04,209.14 L554.65,205.93 L557.27,202.77 L559.88,199.65 L562.49,196.58 L565.11,193.55 L567.72,190.56 L570.33,187.61 L572.95,184.71 L575.56,181.84 L578.17,179.01 L580.79,176.22 L583.40,173.47 L586.01,170.75 L588.63,168.07 L591.24,165.43 L593.86,162.82 L596.47,160.24 L599.08,157.69 L601.70,155.18 L604.31,152.70 L606.92,150.25 L609.54,147.84 L612.15,145.45 L614.76,143.09 L617.38,140.76 L619.99,138.46 L622.60,136.19 L625.22,133.94 L627.83,131.72 L630.44,129.53 L633.06,127.36 L635.67,125.22 L638.28,123.11 L640.90,121.01 L643.51,118.95 L646.12,116.90 L648.74,114.88 L651.35,112.89 L653.96,110.91 L656.58,108.96 L659.19,107.03 L661.80,105.12 L664.42,103.23 L667.03,101.37 L669.64,99.52 L672.26,97.69 L674.87,95.89 L677.49,94.10 L680.10,92.33 L682.71,90.58 L685.33,88.85 L687.94,87.14 L690.55,85.44 L693.17,83.77 L695.78,82.11 L698.39,80.46 L701.01,78.84 L703.62,77.23 L706.23,75.64 L708.85,74.06 L711.46,72.50 L714.07,70.95 L716.69,69.43 L719.30,67.91 L721.91,66.41 L724.53,64.93 L727.14,63.46 L729.75,62.00 L732.37,60.56 L734.98,59.13 L737.59,57.71 L740.21,56.31 L742.82,54.93 L745.43,53.55 L748.05,52.19 L750.66,50.84 L753.28,49.50 L755.89,48.18 L758.50,46.87 L761.12,45.57 L763.73,44.28 L766.34,43.00 L768.96,41.74 L771.57,40.49 L774.18,39.25 L776.80,38.01 L779.41,36.79 L782.02,35.59 L784.64,34.39 L787.25,33.20" fill="none" stroke="#f23fae" stroke-width="1.1" stroke-dasharray="1.8 5"/>
<circle cx="510.60" cy="303.60" r="2.6" fill="none" stroke="#e94b57" stroke-width="1"/>
<circle cx="540.40" cy="277.40" r="2.6" fill="none" stroke="#e94b57" stroke-width="1"/>
<circle cx="571.00" cy="254.60" r="2.6" fill="none" stroke="#e94b57" stroke-width="1"/>
<circle cx="601.00" cy="240.00" r="2.6" fill="none" stroke="#e94b57" stroke-width="1"/>
<circle cx="631.60" cy="230.00" r="2.6" fill="none" stroke="#e94b57" stroke-width="1"/>
<circle cx="661.70" cy="217.10" r="2.6" fill="none" stroke="#e94b57" stroke-width="1"/>
<circle cx="692.20" cy="225.00" r="2.6" fill="none" stroke="#e94b57" stroke-width="1"/>
<circle cx="722.50" cy="216.00" r="2.6" fill="none" stroke="#e94b57" stroke-width="1"/>
<circle cx="752.30" cy="214.20" r="2.6" fill="none" stroke="#e94b57" stroke-width="1"/>
<circle cx="782.80" cy="212.00" r="2.6" fill="none" stroke="#e94b57" stroke-width="1"/>
<rect x="507.90" y="274.70" width="5.4" height="5.4" fill="none" stroke="#4a5fb5" stroke-width="1"/>
<rect x="537.70" y="235.90" width="5.4" height="5.4" fill="none" stroke="#4a5fb5" stroke-width="1"/>
<rect x="568.30" y="210.90" width="5.4" height="5.4" fill="none" stroke="#4a5fb5" stroke-width="1"/>
<rect x="598.30" y="197.90" width="5.4" height="5.4" fill="none" stroke="#4a5fb5" stroke-width="1"/>
<rect x="628.90" y="173.70" width="5.4" height="5.4" fill="none" stroke="#4a5fb5" stroke-width="1"/>
<rect x="659.00" y="158.80" width="5.4" height="5.4" fill="none" stroke="#4a5fb5" stroke-width="1"/>
<rect x="689.50" y="150.80" width="5.4" height="5.4" fill="none" stroke="#4a5fb5" stroke-width="1"/>
<rect x="719.80" y="139.50" width="5.4" height="5.4" fill="none" stroke="#4a5fb5" stroke-width="1"/>
<rect x="749.60" y="138.10" width="5.4" height="5.4" fill="none" stroke="#4a5fb5" stroke-width="1"/>
<rect x="780.10" y="129.20" width="5.4" height="5.4" fill="none" stroke="#4a5fb5" stroke-width="1"/>
<path d="M510.60,258.00 L513.60,261.00 L510.60,264.00 L507.60,261.00Z" fill="none" stroke="#3f8a55" stroke-width="1"/>
<path d="M540.40,222.60 L543.40,225.60 L540.40,228.60 L537.40,225.60Z" fill="none" stroke="#3f8a55" stroke-width="1"/>
<path d="M571.00,173.90 L574.00,176.90 L571.00,179.90 L568.00,176.90Z" fill="none" stroke="#3f8a55" stroke-width="1"/>
<path d="M601.00,157.80 L604.00,160.80 L601.00,163.80 L598.00,160.80Z" fill="none" stroke="#3f8a55" stroke-width="1"/>
<path d="M631.60,140.80 L634.60,143.80 L631.60,146.80 L628.60,143.80Z" fill="none" stroke="#3f8a55" stroke-width="1"/>
<path d="M661.70,122.00 L664.70,125.00 L661.70,128.00 L658.70,125.00Z" fill="none" stroke="#3f8a55" stroke-width="1"/>
<path d="M692.20,119.00 L695.20,122.00 L692.20,125.00 L689.20,122.00Z" fill="none" stroke="#3f8a55" stroke-width="1"/>
<path d="M722.50,110.60 L725.50,113.60 L722.50,116.60 L719.50,113.60Z" fill="none" stroke="#3f8a55" stroke-width="1"/>
<path d="M752.30,110.60 L755.30,113.60 L752.30,116.60 L749.30,113.60Z" fill="none" stroke="#3f8a55" stroke-width="1"/>
<path d="M782.80,106.40 L785.80,109.40 L782.80,112.40 L779.80,109.40Z" fill="none" stroke="#3f8a55" stroke-width="1"/>
<path d="M507.60,274.40 L513.60,280.40 M507.60,280.40 L513.60,274.40" stroke="#3a3a3a" stroke-width="1.1"/>
<path d="M537.40,194.00 L543.40,200.00 M537.40,200.00 L543.40,194.00" stroke="#3a3a3a" stroke-width="1.1"/>
<path d="M568.00,138.30 L574.00,144.30 M568.00,144.30 L574.00,138.30" stroke="#3a3a3a" stroke-width="1.1"/>
<path d="M598.00,104.00 L604.00,110.00 M598.00,110.00 L604.00,104.00" stroke="#3a3a3a" stroke-width="1.1"/>
<path d="M628.60,90.40 L634.60,96.40 M628.60,96.40 L634.60,90.40" stroke="#3a3a3a" stroke-width="1.1"/>
<path d="M658.70,80.70 L664.70,86.70 M658.70,86.70 L664.70,80.70" stroke="#3a3a3a" stroke-width="1.1"/>
<path d="M689.20,55.50 L695.20,61.50 M689.20,61.50 L695.20,55.50" stroke="#3a3a3a" stroke-width="1.1"/>
<path d="M719.50,59.40 L725.50,65.40 M719.50,65.40 L725.50,59.40" stroke="#3a3a3a" stroke-width="1.1"/>
<path d="M749.30,37.20 L755.30,43.20 M749.30,43.20 L755.30,37.20" stroke="#3a3a3a" stroke-width="1.1"/>
<path d="M779.80,42.70 L785.80,48.70 M779.80,48.70 L785.80,42.70" stroke="#3a3a3a" stroke-width="1.1"/>
<path d="M507.50,291.00 H513.70 M510.60,287.90 V294.10" stroke="#f23fae" stroke-width="1.1"/>
<path d="M537.30,231.60 H543.50 M540.40,228.50 V234.70" stroke="#f23fae" stroke-width="1.1"/>
<path d="M567.90,189.00 H574.10 M571.00,185.90 V192.10" stroke="#f23fae" stroke-width="1.1"/>
<path d="M597.90,150.50 H604.10 M601.00,147.40 V153.60" stroke="#f23fae" stroke-width="1.1"/>
<path d="M628.50,119.00 H634.70 M631.60,115.90 V122.10" stroke="#f23fae" stroke-width="1.1"/>
<path d="M658.60,92.90 H664.80 M661.70,89.80 V96.00" stroke="#f23fae" stroke-width="1.1"/>
<path d="M689.10,76.20 H695.30 M692.20,73.10 V79.30" stroke="#f23fae" stroke-width="1.1"/>
<path d="M719.40,68.80 H725.60 M722.50,65.70 V71.90" stroke="#f23fae" stroke-width="1.1"/>
<path d="M749.20,56.20 H755.40 M752.30,53.10 V59.30" stroke="#f23fae" stroke-width="1.1"/>
<path d="M779.70,44.10 H785.90 M782.80,41.00 V47.20" stroke="#f23fae" stroke-width="1.1"/>
<text transform="translate(397.60,18.90) scale(1.08,1)" text-anchor="start" font-size="20.8" font-weight="normal" letter-spacing="1.2">b)</text>
<text transform="translate(420.3,220) rotate(-90)" font-size="20" font-weight="bold" letter-spacing="0.3"><tspan dy="0" font-size="20">V</tspan><tspan dy="11" font-size="14">0</tspan><tspan dy="-11" font-size="20">&#160;/&#160;µM&#160;s</tspan><tspan dy="-10.6" font-size="14">-1</tspan></text>
<text transform="translate(589,375.6) scale(1.07,1)" font-size="19.3" font-weight="bold">[<tspan font-size="12.5" dy="-10">tz</tspan><tspan dy="10">A] / µM</tspan></text>
<path d="M74,407.2 V721.5 H385.3" stroke="#828286" stroke-width="1.5" fill="none"/>
<path d="M74.00,721.5 v5.5" stroke="#828286" stroke-width="1.5"/>
<text transform="translate(74.00,745.90) scale(0.98,1)" text-anchor="middle" font-size="20.6" font-weight="bold" >0</text>
<path d="M136.26,721.5 v5.5" stroke="#828286" stroke-width="1.5"/>
<text transform="translate(136.26,745.90) scale(0.98,1)" text-anchor="middle" font-size="20.6" font-weight="bold" >28</text>
<path d="M198.52,721.5 v5.5" stroke="#828286" stroke-width="1.5"/>
<text transform="translate(198.52,745.90) scale(0.98,1)" text-anchor="middle" font-size="20.6" font-weight="bold" >56</text>
<path d="M260.78,721.5 v5.5" stroke="#828286" stroke-width="1.5"/>
<text transform="translate(260.78,745.90) scale(0.98,1)" text-anchor="middle" font-size="20.6" font-weight="bold" >84</text>
<path d="M323.04,721.5 v5.5" stroke="#828286" stroke-width="1.5"/>
<text transform="translate(323.04,745.90) scale(0.98,1)" text-anchor="middle" font-size="20.6" font-weight="bold" >112</text>
<path d="M385.30,721.5 v5.5" stroke="#828286" stroke-width="1.5"/>
<text transform="translate(385.30,745.90) scale(0.98,1)" text-anchor="middle" font-size="20.6" font-weight="bold" >140</text>
<path d="M74,721.50 h-6" stroke="#828286" stroke-width="1.5"/>
<text transform="translate(64.60,724.70) scale(0.98,1)" text-anchor="end" font-size="20.6" font-weight="bold" >0</text>
<path d="M74,642.92 h-6" stroke="#828286" stroke-width="1.5"/>
<text transform="translate(64.60,646.12) scale(0.98,1)" text-anchor="end" font-size="20.6" font-weight="bold" >1.5</text>
<path d="M74,564.35 h-6" stroke="#828286" stroke-width="1.5"/>
<text transform="translate(64.60,567.55) scale(0.98,1)" text-anchor="end" font-size="20.6" font-weight="bold" >3</text>
<path d="M74,485.77 h-6" stroke="#828286" stroke-width="1.5"/>
<text transform="translate(64.60,488.97) scale(0.98,1)" text-anchor="end" font-size="20.6" font-weight="bold" >4.5</text>
<path d="M74,407.20 h-6" stroke="#828286" stroke-width="1.5"/>
<text transform="translate(64.60,410.40) scale(0.98,1)" text-anchor="end" font-size="20.6" font-weight="bold" >6</text>
<path d="M74.00,721.50 L75.56,716.67 L77.13,711.87 L78.69,707.11 L80.26,702.38 L81.82,697.69 L83.39,693.03 L84.95,688.41 L86.51,683.83 L88.08,679.28 L89.64,674.78 L91.21,670.31 L92.77,665.87 L94.34,661.48 L95.90,657.12 L97.46,652.80 L99.03,648.53 L100.59,644.29 L102.16,640.09 L103.72,635.93 L105.29,631.81 L106.85,627.73 L108.42,623.69 L109.98,619.69 L111.54,615.73 L113.11,611.82 L114.67,607.94 L116.24,604.11 L117.80,600.32 L119.37,596.57 L120.93,592.87 L122.49,589.20 L124.06,585.58 L125.62,582.00 L127.19,578.47 L128.75,574.98 L130.32,571.53 L131.88,568.12 L133.44,564.76 L135.01,561.44 L136.57,558.17 L138.14,554.94 L139.70,551.75 L141.27,548.61 L142.83,545.52 L144.39,542.46 L145.96,539.46 L147.52,536.49 L149.09,533.58 L150.65,530.70 L152.22,527.87 L153.78,525.09 L155.34,522.35 L156.91,519.66 L158.47,517.01 L160.04,514.41 L161.60,511.85 L163.17,509.34 L164.73,506.88 L166.29,504.46 L167.86,502.08 L169.42,499.75 L170.99,497.47 L172.55,495.23 L174.12,493.04 L175.68,490.89 L177.25,488.79 L178.81,486.73 L180.37,484.72 L181.94,482.75 L183.50,480.83 L185.07,478.96 L186.63,477.13 L188.20,475.35 L189.76,473.61 L191.32,471.91 L192.89,470.26 L194.45,468.66 L196.02,467.10 L197.58,465.59 L199.15,464.12 L200.71,462.69 L202.27,461.31 L203.84,459.98 L205.40,458.68 L206.97,457.44 L208.53,456.23 L210.10,455.07 L211.66,453.96 L213.22,452.89 L214.79,451.86 L216.35,450.87 L217.92,449.93 L219.48,449.03 L221.05,448.18 L222.61,447.36 L224.17,446.59 L225.74,445.86 L227.30,445.18 L228.87,444.53 L230.43,443.93 L232.00,443.37 L233.56,442.84 L235.13,442.37 L236.69,441.93 L238.25,441.53 L239.82,441.17 L241.38,440.85 L242.95,440.57 L244.51,440.34 L246.08,440.14 L247.64,439.98 L249.20,439.86 L250.77,439.77 L252.33,439.73 L253.90,439.72 L255.46,439.75 L257.03,439.82 L258.59,439.92 L260.15,440.06 L261.72,440.24 L263.28,440.46 L264.85,440.71 L266.41,440.99 L267.98,441.31 L269.54,441.66 L271.10,442.05 L272.67,442.47 L274.23,442.93 L275.80,443.42 L277.36,443.94 L278.93,444.49 L280.49,445.08 L282.05,445.70 L283.62,446.35 L285.18,447.03 L286.75,447.74 L288.31,448.48 L289.88,449.25 L291.44,450.04 L293.01,450.87 L294.57,451.73 L296.13,452.61 L297.70,453.52 L299.26,454.46 L300.83,455.42 L302.39,456.41 L303.96,457.42 L305.52,458.46 L307.08,459.53 L308.65,460.62 L310.21,461.73 L311.78,462.86 L313.34,464.02 L314.91,465.20 L316.47,466.40 L318.03,467.62 L319.60,468.86 L321.16,470.12 L322.73,471.40 L324.29,472.70 L325.86,474.02 L327.42,475.35 L328.98,476.70 L330.55,478.07 L332.11,479.45 L333.68,480.85 L335.24,482.27 L336.81,483.69 L338.37,485.13 L339.93,486.59 L341.50,488.05 L343.06,489.53 L344.63,491.02 L346.19,492.52 L347.76,494.03 L349.32,495.55 L350.88,497.07 L352.45,498.60 L354.01,500.15 L355.58,501.69 L357.14,503.24 L358.71,504.80 L360.27,506.36 L361.84,507.93 L363.40,509.50 L364.96,511.07 L366.53,512.64 L368.09,514.22 L369.66,515.79 L371.22,517.36 L372.79,518.93 L374.35,520.50 L375.91,522.07 L377.48,523.63 L379.04,525.19 L380.61,526.74 L382.17,528.29 L383.74,529.83 L385.30,531.37" fill="none" stroke="#e94b57" stroke-width="1.1"/>
<circle cx="82.30" cy="707.30" r="2.6" fill="none" stroke="#e94b57" stroke-width="1"/>
<circle cx="112.60" cy="608.80" r="2.6" fill="none" stroke="#e94b57" stroke-width="1"/>
<circle cx="143.00" cy="517.20" r="2.6" fill="none" stroke="#e94b57" stroke-width="1"/>
<circle cx="173.40" cy="547.80" r="2.6" fill="none" stroke="#e94b57" stroke-width="1"/>
<circle cx="203.60" cy="428.60" r="2.6" fill="none" stroke="#e94b57" stroke-width="1"/>
<circle cx="233.60" cy="443.50" r="2.6" fill="none" stroke="#e94b57" stroke-width="1"/>
<circle cx="264.00" cy="443.30" r="2.6" fill="none" stroke="#e94b57" stroke-width="1"/>
<circle cx="293.80" cy="453.90" r="2.6" fill="none" stroke="#e94b57" stroke-width="1"/>
<circle cx="324.30" cy="472.50" r="2.6" fill="none" stroke="#e94b57" stroke-width="1"/>
<circle cx="354.40" cy="497.60" r="2.6" fill="none" stroke="#e94b57" stroke-width="1"/>
<text transform="translate(5.60,411.60) scale(1,1)" text-anchor="start" font-size="20.5" font-weight="normal" letter-spacing="0.5">c)</text>
<text transform="translate(30.4,633.5) rotate(-90)" font-size="20" font-weight="bold" letter-spacing="0.3"><tspan dy="0" font-size="20">V</tspan><tspan dy="11" font-size="14">0</tspan><tspan dy="-11" font-size="20">&#160;/&#160;x10</tspan><tspan dy="-10.6" font-size="14">-3</tspan><tspan dy="10.6" font-size="20">&#160;V&#160;s</tspan><tspan dy="-10.6" font-size="14">-1</tspan></text>
<text transform="translate(171,770.4) scale(1.07,1)" font-size="19.3" font-weight="bold">[<tspan font-size="12.5" dy="-10">tz</tspan><tspan dy="10">2-AA] / µM</tspan></text>
<path d="M473.75,408.5 V722.4 H784.5" stroke="#828286" stroke-width="1.5" fill="none"/>
<path d="M473.75,722.4 v5.5" stroke="#828286" stroke-width="1.5"/>
<text transform="translate(473.75,749.10) scale(0.98,1)" text-anchor="middle" font-size="20.6" font-weight="bold" >0.5</text>
<path d="M525.54,722.4 v5.5" stroke="#828286" stroke-width="1.5"/>
<text transform="translate(525.54,749.10) scale(0.98,1)" text-anchor="middle" font-size="20.6" font-weight="bold" >0.6</text>
<path d="M577.33,722.4 v5.5" stroke="#828286" stroke-width="1.5"/>
<text transform="translate(577.33,749.10) scale(0.98,1)" text-anchor="middle" font-size="20.6" font-weight="bold" >0.7</text>
<path d="M629.12,722.4 v5.5" stroke="#828286" stroke-width="1.5"/>
<text transform="translate(629.12,749.10) scale(0.98,1)" text-anchor="middle" font-size="20.6" font-weight="bold" >0.8</text>
<path d="M680.92,722.4 v5.5" stroke="#828286" stroke-width="1.5"/>
<text transform="translate(680.92,749.10) scale(0.98,1)" text-anchor="middle" font-size="20.6" font-weight="bold" >0.9</text>
<path d="M732.71,722.4 v5.5" stroke="#828286" stroke-width="1.5"/>
<text transform="translate(732.71,749.10) scale(0.98,1)" text-anchor="middle" font-size="20.6" font-weight="bold" >1</text>
<path d="M784.50,722.4 v5.5" stroke="#828286" stroke-width="1.5"/>
<text transform="translate(784.50,749.10) scale(0.98,1)" text-anchor="middle" font-size="20.6" font-weight="bold" >1.1</text>
<path d="M473.75,722.40 h-6" stroke="#828286" stroke-width="1.5"/>
<text transform="translate(462.95,725.70) scale(0.98,1)" text-anchor="end" font-size="20.6" font-weight="bold" >0.05</text>
<path d="M473.75,643.92 h-6" stroke="#828286" stroke-width="1.5"/>
<text transform="translate(462.95,647.22) scale(0.98,1)" text-anchor="end" font-size="20.6" font-weight="bold" >0.1</text>
<path d="M473.75,565.45 h-6" stroke="#828286" stroke-width="1.5"/>
<text transform="translate(462.95,568.75) scale(0.98,1)" text-anchor="end" font-size="20.6" font-weight="bold" >0.15</text>
<path d="M473.75,486.98 h-6" stroke="#828286" stroke-width="1.5"/>
<text transform="translate(462.95,490.28) scale(0.98,1)" text-anchor="end" font-size="20.6" font-weight="bold" >0.2</text>
<path d="M473.75,408.50 h-6" stroke="#828286" stroke-width="1.5"/>
<text transform="translate(462.95,411.80) scale(0.98,1)" text-anchor="end" font-size="20.6" font-weight="bold" >0.25</text>
<path d="M473.8,719.2 L784.5,472.3" stroke="#f6aa6a" stroke-width="1.2" fill="none"/>
<path d="M503.4,684.5 V704.3 M501.2,684.5 h4.4 M501.2,704.3 h4.4" stroke="#f6aa6a" stroke-width="1"/>
<circle cx="503.40" cy="694.30" r="2.8" fill="none" stroke="#f6aa6a" stroke-width="1"/>
<path d="M571.1,615.7 V628 M568.9,615.7 h4.4 M568.9,628 h4.4" stroke="#f6aa6a" stroke-width="1"/>
<circle cx="571.10" cy="621.90" r="2.8" fill="none" stroke="#f6aa6a" stroke-width="1"/>
<path d="M637.9,606.6 V625 M635.6999999999999,606.6 h4.4 M635.6999999999999,625 h4.4" stroke="#f6aa6a" stroke-width="1"/>
<circle cx="637.90" cy="615.70" r="2.8" fill="none" stroke="#f6aa6a" stroke-width="1"/>
<path d="M708.8,517.6 V566 M706.5999999999999,517.6 h4.4 M706.5999999999999,566 h4.4" stroke="#f6aa6a" stroke-width="1"/>
<circle cx="708.80" cy="541.80" r="2.8" fill="none" stroke="#f6aa6a" stroke-width="1"/>
<path d="M779,421.8 V499.7 M776.8,421.8 h4.4 M776.8,499.7 h4.4" stroke="#f6aa6a" stroke-width="1"/>
<circle cx="779.00" cy="460.20" r="2.8" fill="none" stroke="#f6aa6a" stroke-width="1"/>
<text transform="translate(397.60,410.90) scale(1.08,1)" text-anchor="start" font-size="20.8" font-weight="normal" letter-spacing="1.2">d)</text>
<text transform="translate(411,624.5) rotate(-90)" font-size="20" font-weight="bold" letter-spacing="0.3"><tspan dy="0" font-size="20">V</tspan><tspan dy="11" font-size="14">max</tspan><tspan dy="-11" font-size="20">&#160;/&#160;µM&#160;s</tspan><tspan dy="-10.6" font-size="14">-1</tspan></text>
<text transform="translate(588.3,772.8) scale(1.07,1)" font-size="19.3" font-weight="bold">[E]<tspan font-size="14" dy="10.8">0</tspan><tspan dy="-10.8"> / nM</tspan></text>
</svg></body></html>
